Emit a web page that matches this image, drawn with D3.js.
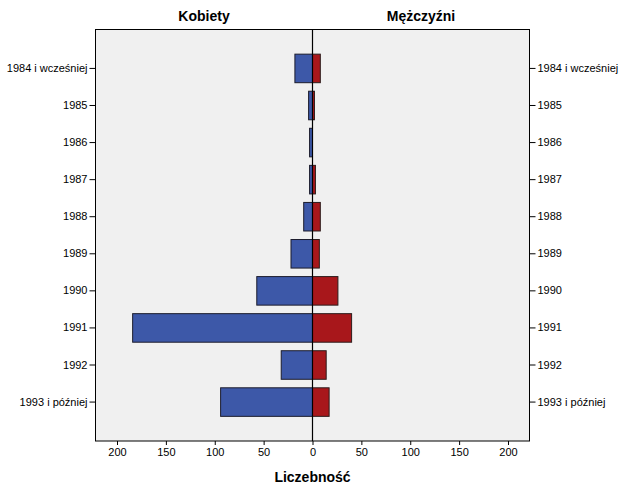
<!DOCTYPE html>
<html>
<head>
<meta charset="utf-8">
<script src="https://cdn.jsdelivr.net/npm/d3@7"></script>
<style>
  body { margin: 0; background: #fff; }
  text { font-family: Arial, "Liberation Sans", sans-serif; fill: #000; }
</style>
</head>
<body>
<svg id="chart" width="625" height="500"></svg>
<script>
// roczniki (kategorie osi pionowej)
const years = ["1984 i wcześniej", "1985", "1986", "1987", "1988", "1989", "1990", "1991", "1992", "1993 i później"];
// liczebności
const kobiety = [18, 4, 3, 3, 9, 22, 57, 184, 32, 94];
const mezczyzni = [8, 2, 0, 3, 8, 7, 26, 40, 14, 17];
const ticks = [200, 150, 100, 50, 0, 50, 100, 150, 200];

var svg = d3.select("#chart");
const plot = { left: 95.5, right: 529.5, top: 29.5, bottom: 441 };

let x = d3.scaleLinear().domain([-222, 222]).range([plot.left, plot.right]);
let y = d3.scaleBand().domain(years)
    .range([plot.top, plot.bottom])
    .paddingInner(0.23).paddingOuter(0.665).align(0.5);

// tło wykresu
svg.append("rect")
    .attr("x", plot.left).attr("y", plot.top)
    .attr("width", plot.right - plot.left).attr("height", plot.bottom - plot.top)
    .attr("fill", "#f0f0f0");

// kobiety (w lewo)
svg.selectAll("rect.k").data(years).join("rect")
    .attr("class", "k")
    .attr("x", (d, i) => x(-kobiety[i]))
    .attr("y", d => y(d))
    .attr("width", (d, i) => x(0) - x(-kobiety[i]))
    .attr("height", y.bandwidth())
    .attr("fill", "#3d58a8")
    .attr("stroke", "#1c1c2c")
    .attr("stroke-width", 1)
    .style("display", (d, i) => kobiety[i] > 0 ? null : "none");

// mężczyźni (w prawo)
svg.selectAll("rect.m").data(years).join("rect")
    .attr("class", "m")
    .attr("x", x(0))
    .attr("y", d => y(d))
    .attr("width", (d, i) => x(mezczyzni[i]) - x(0))
    .attr("height", y.bandwidth())
    .attr("fill", "#a8171b")
    .attr("stroke", "#2c1c1c")
    .attr("stroke-width", 1)
    .style("display", (d, i) => mezczyzni[i] > 0 ? null : "none");

// linia zero
svg.append("line")
    .attr("x1", x(0)).attr("x2", x(0))
    .attr("y1", plot.top).attr("y2", plot.bottom)
    .attr("stroke", "#000").attr("stroke-width", 1.2);

// ramka
svg.append("rect")
    .attr("x", plot.left).attr("y", plot.top)
    .attr("width", plot.right - plot.left).attr("height", plot.bottom - plot.top)
    .attr("fill", "none").attr("stroke", "#000").attr("stroke-width", 1);

// osie
const xAxis = d3.axisBottom(x)
    .tickValues([-200, -150, -100, -50, 0, 50, 100, 150, 200])
    .tickFormat((d, i) => ticks[i])
    .tickSize(4).tickPadding(3);
svg.append("g").attr("transform", `translate(0,${plot.bottom})`).call(xAxis)
    .call(g => g.select(".domain").remove())
    .call(g => g.selectAll("text").style("font-size", "11px"));

const yLeft = d3.axisLeft(y).tickSize(6).tickPadding(2);
svg.append("g").attr("transform", `translate(${plot.left},0)`).call(yLeft)
    .call(g => g.select(".domain").remove())
    .call(g => g.selectAll("text").style("font-size", "11px"));

const yRight = d3.axisRight(y).tickSize(6).tickPadding(2);
svg.append("g").attr("transform", `translate(${plot.right},0)`).call(yRight)
    .call(g => g.select(".domain").remove())
    .call(g => g.selectAll("text").style("font-size", "11px"));

// tytuły
svg.append("text")
    .attr("x", (x(-222) + x(0)) / 2).attr("y", 21)
    .attr("text-anchor", "middle")
    .style("font-size", "14px").style("font-weight", "bold")
    .text("Kobiety");
svg.append("text")
    .attr("x", (x(0) + x(222)) / 2).attr("y", 21)
    .attr("text-anchor", "middle")
    .style("font-size", "14px").style("font-weight", "bold")
    .text("Mężczyźni");
svg.append("text")
    .attr("x", x(0)).attr("y", 482)
    .attr("text-anchor", "middle")
    .style("font-size", "14px").style("font-weight", "bold")
    .text("Liczebność");
</script>
</body>
</html>
